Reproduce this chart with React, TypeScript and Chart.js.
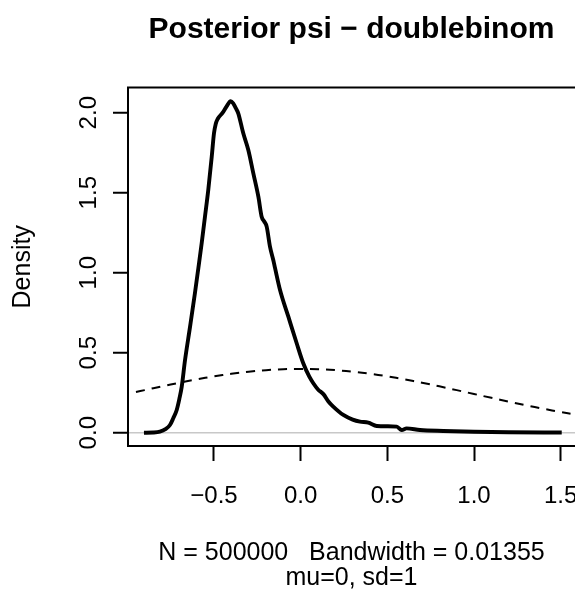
import { useEffect, useRef } from "react";
import { Chart, registerables } from "chart.js";

Chart.register(...registerables);

// Posterior density of psi
const densityX = [
  -0.904, -0.85, -0.812, -0.78, -0.754, -0.735, -0.715, -0.7, -0.686, -0.667,
  -0.638, -0.61, -0.59, -0.571, -0.552, -0.533, -0.513, -0.5, -0.49, -0.478,
  -0.45, -0.427, -0.404, -0.39, -0.375, -0.36, -0.331, -0.302, -0.273, -0.244,
  -0.225, -0.21, -0.196, -0.177, -0.158, -0.148, -0.119, -0.071, -0.023, 0.015,
  0.05, 0.073, 0.1, 0.131, 0.16, 0.188, 0.246, 0.3, 0.342, 0.39,
  0.439, 0.5, 0.554, 0.583, 0.611, 0.688, 0.823, 1.0, 1.2, 1.506,
];
const densityY = [
  0.0, 0.001, 0.006, 0.022, 0.048, 0.09, 0.142, 0.21, 0.288, 0.454,
  0.663, 0.871, 1.03, 1.184, 1.35, 1.517, 1.725, 1.871, 1.93, 1.962,
  2.0, 2.04, 2.072, 2.06, 2.03, 1.996, 1.871, 1.767, 1.621, 1.475,
  1.35, 1.32, 1.288, 1.163, 1.079, 1.03, 0.892, 0.725, 0.559, 0.434,
  0.35, 0.309, 0.27, 0.241, 0.195, 0.163, 0.111, 0.082, 0.069, 0.063,
  0.042, 0.04, 0.038, 0.017, 0.027, 0.017, 0.011, 0.006, 0.003, 0.001,
];

// Prior N(0,1) density (dashed)
const priorX = [
  -0.95, -0.9, -0.8, -0.7, -0.6, -0.5, -0.4, -0.3, -0.2, -0.1, 0.0, 0.1, 0.2, 0.3,
  0.4, 0.5, 0.6, 0.7, 0.8, 0.9, 1.0, 1.1, 1.2, 1.3, 1.4, 1.5, 1.583,
];
const priorY = [
  0.2541, 0.2661, 0.2897, 0.3123, 0.3332, 0.3521, 0.3683, 0.3814, 0.391, 0.397,
  0.3989, 0.397, 0.391, 0.3814, 0.3683, 0.3521, 0.3332, 0.3123, 0.2897, 0.2661,
  0.242, 0.2179, 0.1942, 0.1714, 0.1497, 0.1295, 0.1143,
];

const xTicks = [-0.5, 0.0, 0.5, 1.0, 1.5];
const yTicks = [0.0, 0.5, 1.0, 1.5, 2.0];

const titleText = "Posterior psi \u2212 doublebinom";
const xTitle = ["N = 500000   Bandwidth = 0.01355", "mu=0, sd=1"];
const yTitle = "Density";

const FONT = "'Liberation Sans', Arial, Helvetica, sans-serif";

const fmt = (v: number) => {
  const s = Math.abs(v).toFixed(1);
  return v < -1e-9 ? "\u2212" + s : s;
};

export default function App() {
  const ref = useRef<HTMLCanvasElement | null>(null);

  useEffect(() => {
    document.body.style.margin = "0";
    const canvas = ref.current;
    if (!canvas) return;

    const boxPlugin = {
      id: "rbox",
      afterDraw(chart: any) {
        const { ctx, chartArea } = chart;
        ctx.save();
        ctx.strokeStyle = "#000";
        ctx.lineWidth = 2;
        ctx.beginPath();
        ctx.moveTo(chartArea.left - 1, chartArea.top);
        ctx.lineTo(chartArea.right, chartArea.top);
        ctx.stroke();
        ctx.restore();
      },
    };

    const chart = new Chart(canvas, {
      type: "line",
      data: {
        datasets: [
          {
            label: "posterior",
            data: densityX.map((x, i) => ({ x, y: densityY[i] })),
            borderColor: "#000",
            borderWidth: 3.9,
            pointRadius: 0,
            cubicInterpolationMode: "monotone",
            fill: false,
          },
          {
            label: "prior",
            data: priorX.map((x, i) => ({ x, y: priorY[i] })),
            borderColor: "#000",
            borderWidth: 2,
            borderDash: [9, 7],
            pointRadius: 0,
            tension: 0.4,
            fill: false,
          },
        ],
      },
      options: {
        animation: false,
        responsive: false,
        devicePixelRatio: 1,
        layout: { padding: { top: 12, left: 0, right: 0, bottom: 0 } },
        plugins: {
          legend: { display: false },
          tooltip: { enabled: false },
          title: {
            display: true,
            text: titleText,
            fullSize: false,
            color: "#000",
            font: { family: FONT, size: 30, weight: "bold", lineHeight: 1.2 },
            padding: { top: 0, bottom: 39.5 },
          },
        },
        scales: {
          x: {
            type: "linear",
            position: "bottom",
            min: -0.996,
            max: 1.5825,
            afterBuildTicks: (s: any) => {
              s.ticks = xTicks.map((v) => ({ value: v }));
            },
            afterFit: (s: any) => {
              s.height = 151;
              s.paddingLeft = 0;
              s.paddingRight = 0;
            },
            grid: {
              drawOnChartArea: false,
              drawTicks: true,
              tickLength: 15,
              tickWidth: 2,
              tickColor: "#000",
            },
            border: { display: true, color: "#000", width: 2 },
            ticks: {
              color: "#000",
              font: { family: FONT, size: 24 },
              padding: 21,
              maxRotation: 0,
              autoSkip: false,
              callback: (v: any) => fmt(Number(v)),
            },
            title: {
              display: true,
              text: xTitle,
              color: "#000",
              font: { family: FONT, size: 25, lineHeight: 1.02 },
              padding: { top: 0, bottom: 6 },
            },
          },
          y: {
            type: "linear",
            position: "left",
            min: -0.0831,
            max: 2.1575,
            afterBuildTicks: (s: any) => {
              s.ticks = yTicks.map((v) => ({ value: v }));
            },
            afterFit: (s: any) => {
              s.width = 128;
              s.paddingTop = 0;
              s.paddingBottom = 0;
            },
            grid: {
              drawOnChartArea: true,
              drawTicks: true,
              tickLength: 15,
              tickWidth: 2,
              tickColor: "#000",
              lineWidth: 1.5,
              color: (c: any) =>
                c.tick && Math.abs(c.tick.value) < 1e-9 ? "#c8c8c8" : "rgba(0,0,0,0)",
            },
            border: { display: true, color: "#000", width: 2 },
            ticks: {
              color: "#000",
              font: { family: FONT, size: 24 },
              padding: 6.5,
              minRotation: 90,
              maxRotation: 90,
              crossAlign: "center",
              autoSkip: false,
              callback: (v: any) => fmt(Number(v)),
            },
            title: {
              display: true,
              text: yTitle,
              color: "#000",
              font: { family: FONT, size: 25, lineHeight: 1.0 },
              padding: { top: 10.5, bottom: 0 },
            },
          },
        },
      },
      plugins: [boxPlugin],
    } as any);

    return () => chart.destroy();
  }, []);

  return (
    <div style={{ width: 575, height: 597, overflow: "hidden" }}>
      <canvas ref={ref} width={575} height={597} style={{ display: "block" }} />
    </div>
  );
}
